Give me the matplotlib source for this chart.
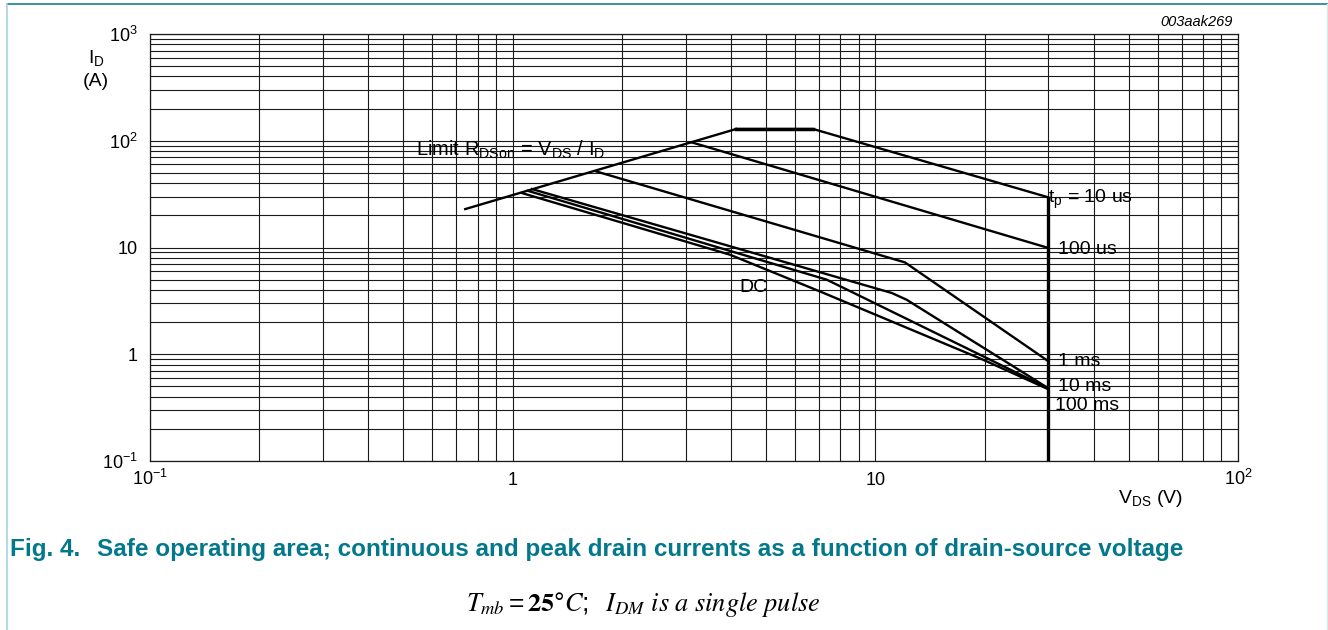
import matplotlib.pyplot as plt
from matplotlib.lines import Line2D
from matplotlib.ticker import FixedLocator, LogLocator, NullFormatter

plt.rcParams["font.family"] = ["Liberation Sans", "DejaVu Sans"]
plt.rcParams["mathtext.fontset"] = "custom"
plt.rcParams["mathtext.rm"] = "Liberation Sans"
plt.rcParams["mathtext.it"] = "Liberation Sans:italic"
plt.rcParams["mathtext.bf"] = "Liberation Sans:bold"
plt.rcParams["mathtext.default"] = "regular"

# safe operating area (V, A)
rds_v = [0.74, 4.13]
rds_i = [22.9, 128.8]

v_10us = [4.13, 6.74, 30.0]
i_10us = [128.8, 128.8, 29.5]
v_100us = [3.12, 30.0]
i_100us = [96.5, 9.9]
v_1ms = [1.70, 12.07, 30.0]
i_1ms = [51.6, 7.25, 0.86]
v_10ms = [1.13, 11.1, 12.2, 30.0]
i_10ms = [35.3, 3.75, 3.24, 0.48]
v_100ms = [1.10, 7.34, 30.0]
i_100ms = [34.0, 5.0, 0.48]
v_dc = [1.06, 3.97, 7.03, 19.8, 30.0]
i_dc = [32.4, 8.57, 3.88, 0.89, 0.47]

v_max = 30.0  # vertical VDS limit

x_ticks = [0.1, 1, 10, 100]
x_labels = ["10$^{-1}$", "1", "10", "10$^{2}$"]
y_ticks = [0.1, 1, 10, 100, 1000]
y_labels = ["10$^{-1}$", "1", "10", "10$^{2}$", "10$^{3}$"]

W, H = 1328, 630
TEAL = "#03788a"


def fx(x):
    return x / W


def fy(y):
    return 1 - y / H


fig = plt.figure(figsize=(W / 100, H / 100), dpi=100)
ax = fig.add_axes([fx(150), fy(461), 1088 / W, 427 / H])

ax.set_xscale("log")
ax.set_yscale("log")
ax.set_xlim(0.1, 100)
ax.set_ylim(0.1, 1000)

ax.xaxis.set_major_locator(FixedLocator(x_ticks))
ax.yaxis.set_major_locator(FixedLocator(y_ticks))
ax.xaxis.set_minor_locator(LogLocator(subs=range(2, 10)))
ax.yaxis.set_minor_locator(LogLocator(subs=range(2, 10)))
ax.xaxis.set_minor_formatter(NullFormatter())
ax.yaxis.set_minor_formatter(NullFormatter())
ax.set_xticklabels(x_labels)
ax.set_yticklabels(y_labels)
ax.tick_params(which="both", length=0, labelsize=13)
ax.tick_params(axis="x", pad=17)
ax.tick_params(axis="y", pad=9)
for lab in ax.get_xticklabels():
    lab.set_va("baseline")

ax.grid(which="both", color="#1a1a1a", lw=0.8)
ax.set_axisbelow(True)
for sp in ax.spines.values():
    sp.set_color("#1a1a1a")
    sp.set_linewidth(0.9)

lw = 1.7
ax.plot(rds_v, rds_i, color="black", lw=lw)
ax.plot(v_10us, i_10us, color="black", lw=lw)
ax.plot(v_10us[:2], i_10us[:2], color="black", lw=2.5)
ax.plot(v_100us, i_100us, color="black", lw=lw)
ax.plot(v_1ms, i_1ms, color="black", lw=lw)
ax.plot(v_10ms, i_10ms, color="black", lw=lw)
ax.plot(v_100ms, i_100ms, color="black", lw=lw)
ax.plot(v_dc, i_dc, color="black", lw=lw)
ax.vlines(v_max, 0.1, i_10us[-1], color="black", lw=2.4)

fs = 14
ax.text(0.541, 72.4, "Limit R$_{DSon}$ = V$_{DS}$ / I$_{D}$", fontsize=14.5, va="baseline")
ax.text(30.0, 26.1, "t$_{p}$ = 10 us", fontsize=fs, va="baseline")
ax.text(31.9, 8.75, "100 us", fontsize=fs, va="baseline")
ax.text(31.9, 0.769, "1 ms", fontsize=fs, va="baseline")
ax.text(31.9, 0.449, "10 ms", fontsize=fs, va="baseline")
ax.text(31.3, 0.298, "100 ms", fontsize=fs, va="baseline")
ax.text(4.21, 3.80, "DC", fontsize=fs, va="baseline")

# axis titles
fig.text(fx(96), fy(63), "I$_{D}$", fontsize=fs, ha="center", va="baseline")
fig.text(fx(96), fy(86), "(A)", fontsize=fs, ha="center", va="baseline")
fig.text(fx(1118), fy(503), "V$_{DS}$ (V)", fontsize=fs, ha="left", va="baseline")
fig.text(fx(1233), fy(26), "003aak269", fontsize=10.5, style="italic",
         ha="right", va="baseline")

# caption
fig.text(fx(10), fy(556), "Fig. 4.", fontsize=17.5, weight="bold", color=TEAL,
         va="baseline")
fig.text(fx(97), fy(556),
         "Safe operating area; continuous and peak drain currents as a function "
         "of drain-source voltage",
         fontsize=17.5, weight="bold", color=TEAL, va="baseline")
fig.text(fx(643), fy(611),
         r"$\mathit{T_{mb}} = \mathbf{25}$°$\mathit{C};\ \ \mathit{I_{DM}\ is\ a\ single\ pulse}$",
         fontsize=19, ha="center", va="baseline", math_fontfamily="stix")

# page frame
fig.add_artist(Line2D([fx(7), 1], [fy(4), fy(4)], color="#1a7f8e", lw=1.2))
fig.add_artist(Line2D([fx(7), fx(7)], [0, fy(4)], color="#a9d1e0", lw=1.2))
fig.add_artist(Line2D([fx(1327), fx(1327)], [0, fy(4)], color="#dbe9ef", lw=1.0))

fig.savefig("out.png", dpi=100)
